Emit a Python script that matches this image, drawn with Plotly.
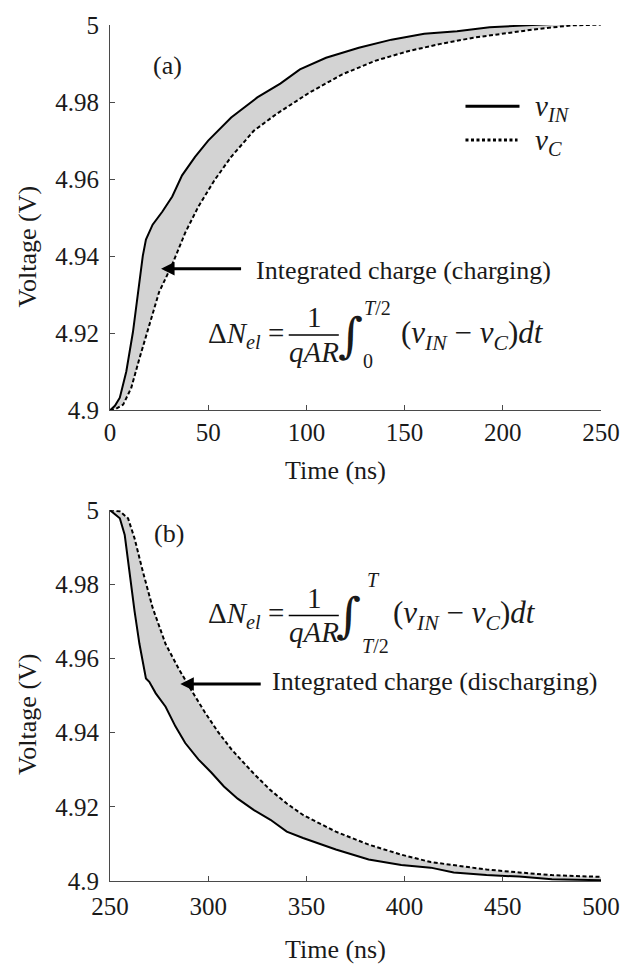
import plotly.graph_objects as go

# ---------------- data: (a) charging, 0-250 ns ----------------
t_in_a = [0, 2.5, 5, 8.3, 11.7, 14.2, 16.7, 18.3, 21.7, 26.7, 31.7, 36.7, 43.3, 50,
          61.7, 75, 86.7, 96.7, 110, 126.7, 143.3, 160, 176.7, 193.3, 210, 226.7, 233.3]
v_in_a = [4.9, 4.9012, 4.9033, 4.9101, 4.9204, 4.9298, 4.9401, 4.9443, 4.9482, 4.9516,
          4.9555, 4.9610, 4.9658, 4.9700, 4.9760, 4.9812, 4.9848, 4.9885, 4.9915, 4.9941,
          4.9962, 4.9977, 4.9984, 4.9994, 4.9999, 5.0003, 5.0003]
t_c_a = [0, 3, 6.7, 10.8, 15, 20, 25, 31.7, 38.3, 45, 53.3, 61.7, 73.3, 85, 101.7,
         118.3, 135, 151.7, 168.3, 185, 201.7, 218.3, 235, 250]
v_c_a = [4.9, 4.9004, 4.9015, 4.9058, 4.9135, 4.9221, 4.9307, 4.9379, 4.9461, 4.9529,
         4.9598, 4.9658, 4.9726, 4.9770, 4.9825, 4.9872, 4.9907, 4.9932, 4.9951, 4.9967,
         4.9979, 4.9990, 4.9999, 5.0001]

# ---------------- data: (b) discharging, 250-500 ns ----------------
t_in_b = [250, 255, 257.5, 260, 262.5, 265, 268.3, 270, 273.3, 278.3, 283.3, 288.3, 295,
          301.7, 308, 315, 323.3, 331.7, 340, 348.3, 365, 381.7, 398.3, 413.3, 425, 441.7,
          458.3, 475, 500]
v_in_b = [5.0, 4.9978, 4.9933, 4.9826, 4.9728, 4.9639, 4.9546, 4.9537, 4.9506, 4.9470,
          4.9417, 4.9372, 4.9328, 4.9292, 4.9255, 4.9222, 4.9191, 4.9165, 4.9133, 4.9116,
          4.9085, 4.9058, 4.9043, 4.9036, 4.9023, 4.9016, 4.9012, 4.9005, 4.9002]
t_c_b = [250, 255, 259.2, 262.5, 266.7, 271.7, 278.3, 285, 291.7, 298.3, 305, 311.7, 315.8,
         323.3, 331.7, 340, 348.3, 365, 381.7, 398.3, 413.3, 425, 441.7, 458.3, 475, 500]
v_c_b = [5.0, 4.9997, 4.9978, 4.9924, 4.9835, 4.9737, 4.9639, 4.9572, 4.9512, 4.9455,
         4.9402, 4.9356, 4.9332, 4.9289, 4.9245, 4.9209, 4.9178, 4.9133, 4.9098, 4.9071,
         4.9051, 4.9043, 4.9031, 4.9023, 4.9016, 4.9011]

x_ticks_a = [0, 50, 100, 150, 200, 250]
x_ticks_b = [250, 300, 350, 400, 450, 500]
y_ticks = [4.9, 4.92, 4.94, 4.96, 4.98, 5.0]
y_ticktext = ["4.9", "4.92", "4.94", "4.96", "4.98", "5"]

# ---------------- layout geometry ----------------
W, H = 632, 967
L, R, T, B = 110, 22, 17, 86
PW, PH = W - L - R, H - T - B


def px(x):
    return (x - L) / PW


def py(y):
    return (H - B - y) / PH


FONT = "Liberation Serif"
MATH = "Liberation Serif"
GREY = "#d3d3d3"
AX = "#4a4a4a"
TXT = "#1a1a1a"

fig = go.Figure()


def add_panel(t_in, v_in, t_c, v_c, xa, ya):
    fig.add_trace(go.Scatter(x=t_in + t_c[::-1], y=v_in + v_c[::-1], fill="toself",
                             fillcolor=GREY, line=dict(width=0), mode="lines",
                             hoverinfo="skip", showlegend=False, xaxis=xa, yaxis=ya))
    fig.add_trace(go.Scatter(x=t_c, y=v_c, mode="lines", name="v_C",
                             line=dict(color="black", width=2, dash="4px,2.5px"),
                             showlegend=False, xaxis=xa, yaxis=ya))
    fig.add_trace(go.Scatter(x=t_in, y=v_in, mode="lines", name="v_IN",
                             line=dict(color="black", width=2),
                             showlegend=False, xaxis=xa, yaxis=ya))


add_panel(t_in_a, v_in_a, t_c_a, v_c_a, "x", "y")
add_panel(t_in_b, v_in_b, t_c_b, v_c_b, "x2", "y2")

axis_common = dict(showline=True, linecolor=AX, linewidth=1.2, ticks="inside",
                   ticklen=5, tickcolor=AX, tickwidth=1.2, showgrid=False,
                   zeroline=False, mirror=False,
                   tickfont=dict(family=FONT, size=25, color=TXT))

fig.update_layout(
    width=W, height=H, margin=dict(l=L, r=R, t=T, b=B),
    paper_bgcolor="white", plot_bgcolor="white", showlegend=False,
    xaxis=dict(domain=[0, 1], range=[0, 250], tickvals=x_ticks_a, anchor="y",
               ticklabelstandoff=0, **axis_common),
    yaxis=dict(domain=[py(406), 1], range=[4.9, 5.0], tickvals=y_ticks,
               ticktext=y_ticktext, anchor="x", ticklabelstandoff=5, **axis_common),
    xaxis2=dict(domain=[0, 1], range=[250, 500], tickvals=x_ticks_b, anchor="y2",
                ticklabelstandoff=3, **axis_common),
    yaxis2=dict(domain=[0, py(506.7)], range=[4.9, 5.0], tickvals=y_ticks,
                ticktext=y_ticktext, anchor="x2", ticklabelstandoff=5, **axis_common),
)

ann = []
shapes = []


def text(x, y, s, size=26, xanchor="center", yanchor="middle", angle=0, family=FONT):
    ann.append(dict(x=px(x), y=py(y), xref="paper", yref="paper", text=s,
                    showarrow=False, xanchor=xanchor, yanchor=yanchor, textangle=angle,
                    font=dict(family=family, size=size, color=TXT)))


# axis titles
text(340, 467, "Time (ns)")
text(340, 950, "Time (ns)")
text(26, 241, "Voltage (V)", angle=-90)
text(26, 713, "Voltage (V)", angle=-90)

# panel labels
text(169, 58, "(a)")
text(170, 530, "(b)")

# legend (panel a)
shapes.append(dict(type="line", xref="paper", yref="paper", x0=px(472), x1=px(527),
                   y0=py(99), y1=py(99), line=dict(color="black", width=3)))
shapes.append(dict(type="line", xref="paper", yref="paper", x0=px(472), x1=px(525),
                   y0=py(133), y1=py(133), line=dict(color="black", width=3, dash="3px,2.5px")))
text(541, 101, "<i>v</i><sub><i>IN</i></sub>", size=29, xanchor="left", family=MATH)
text(541, 135, "<i>v</i><sub><i>C</i></sub>", size=29, xanchor="left", family=MATH)

# arrows + labels
ann.append(dict(x=26, y=4.93676, xref="x", yref="y", ax=67.5, ay=4.93676, axref="x",
                ayref="y", text="", showarrow=True, arrowhead=2, arrowsize=0.9,
                arrowwidth=3, arrowcolor="black"))
text(257, 265, "Integrated charge (charging)", xanchor="left")
ann.append(dict(x=285.8, y=4.9531, xref="x2", yref="y2", ax=327.5, ay=4.9531, axref="x2",
                ayref="y2", text="", showarrow=True, arrowhead=2, arrowsize=0.9,
                arrowwidth=3, arrowcolor="black"))
text(273, 680, "Integrated charge (discharging)", xanchor="left")


def equation(yc, upper, lower, x_int, up_y, lo_y, up_x, lo_x, x_rest):
    text(208, yc, "Δ<i>N</i><sub><i>el</i></sub> =", size=29, xanchor="left", family=MATH)
    shapes.append(dict(type="line", xref="paper", yref="paper", x0=px(292), x1=px(343),
                       y0=py(yc), y1=py(yc), line=dict(color="black", width=1.5)))
    text(318, yc - 18, "1", size=29, family=MATH)
    text(318, yc + 17, "<i>qAR</i>", size=29, family=MATH)
    text(x_int, yc, "∫", size=48, family="DejaVu Serif")
    text(up_x, up_y, upper, size=20, xanchor="left", family=MATH)
    text(lo_x, lo_y, lower, size=20, xanchor="left", family=MATH)
    text(x_rest, yc, "(<i>v</i><sub><i>IN</i></sub> − <i>v</i><sub><i>C</i></sub>)<i>dt</i>",
         size=31, xanchor="left", family=MATH)


equation(330, "<i>T</i>/2", "0", 355, 303, 356, 367, 366, 404)
equation(613, "<i>T</i>", "<i>T</i>/2", 353, 577, 644, 370, 365, 396)

fig.update_layout(annotations=ann, shapes=shapes)
fig.write_html("out.html")
